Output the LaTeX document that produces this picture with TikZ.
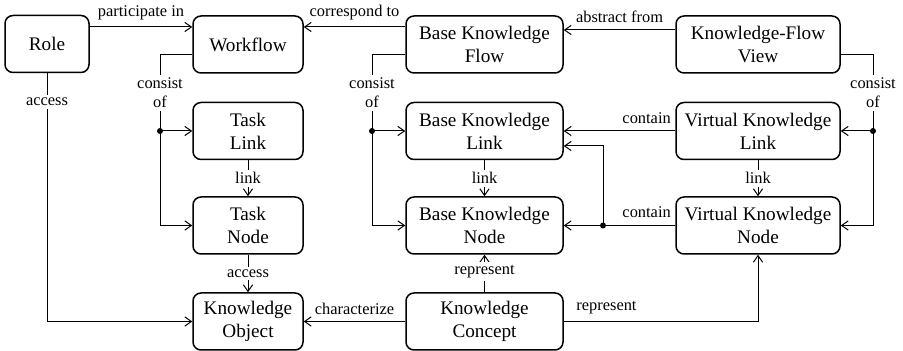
\documentclass[tikz,border=0pt]{standalone}
\usepackage{fontspec}
\setmainfont{Liberation Serif}
\usetikzlibrary{arrows.meta}
\begin{document}
\begin{tikzpicture}[x=0.5pt,y=-0.5pt,
  box/.style={draw, line width=0.75pt, rounded corners=4pt, align=center,
    minimum height=28.5pt, inner sep=0pt, font=\rmfamily\fontsize{9.6}{11.5}\selectfont},
  sbox/.style={box, minimum width=55pt},
  wbox/.style={box, minimum width=78.5pt},
  vbox/.style={box, minimum width=82pt},
  lab/.style={font=\rmfamily\fontsize{8.2}{9.5}\selectfont, align=center},
  gap/.style={lab, fill=white, inner xsep=1pt, inner ysep=1.5pt},
  conn/.style={line width=0.5pt},
  arr/.style={conn, -{Straight Barb[length=3.3pt,width=4.6pt]}},
  dot/.style={circle, fill, inner sep=0pt, minimum size=3pt}
]
\useasboundingbox (0,0) rectangle (903,351);

% nodes
\node[box, minimum width=42pt] (role) at (47,44) {Role};
\node[sbox] (wf)  at (248,44.5) {Workflow};
\node[wbox] (bkf) at (484.5,44.5) {Base Knowledge\\Flow};
\node[vbox] (kfv) at (758,44.5) {Knowledge-Flow\\View};
\node[sbox] (tl)  at (248,131) {Task\\Link};
\node[wbox] (bkl) at (484.5,131) {Base Knowledge\\Link};
\node[vbox] (vkl) at (758,131) {Virtual Knowledge\\Link};
\node[sbox] (tn)  at (248,225.5) {Task\\Node};
\node[wbox] (bkn) at (484.5,225.5) {Base Knowledge\\Node};
\node[vbox] (vkn) at (758,225.5) {Virtual Knowledge\\Node};
\node[sbox] (ko)  at (248,321.5) {Knowledge\\Object};
\node[wbox] (kc)  at (484.5,321.5) {Knowledge\\Concept};

% junction points
\coordinate (wc) at (160,55);
\node[dot] (wj) at (160,131) {};
\coordinate (bc) at (372,55);
\node[dot] (bj) at (372,131) {};
\coordinate (kc1) at (873,55);
\node[dot] (kj) at (873,131) {};
\node[dot] (cj) at (603,225.5) {};

% top row
\draw[arr] (role.east |- 0,27) -- node[lab,above] {participate in} (wf.west |- 0,27);
\draw[arr] (bkf.west |- 0,27) -- node[lab,above] {correspond to} (wf.east |- 0,27);
\draw[arr] (kfv.west |- 0,30) -- node[lab,above] {abstract from} (bkf.east |- 0,30);

% consist of (workflow)
\draw[conn] (wf.west |- wc) -- (wc) -- node[gap] {consist\\of} (wj.center);
\draw[arr] (wj.center) -- (tl.west);
\draw[arr] (wj.center) |- (tn.west);

% consist of (base knowledge flow)
\draw[conn] (bkf.west |- bc) -- (bc) -- node[gap] {consist\\of} (bj.center);
\draw[arr] (bj.center) -- (bkl.west);
\draw[arr] (bj.center) |- (bkn.west);

% consist of (knowledge-flow view)
\draw[conn] (kfv.east |- kc1) -- (kc1) -- node[gap] {consist\\of} (kj.center);
\draw[arr] (kj.center) -- (vkl.east);
\draw[arr] (kj.center) |- (vkn.east);

% links
\draw[arr] (tl) -- node[gap] {link} (tn);
\draw[arr] (bkl) -- node[gap] {link} (bkn);
\draw[arr] (vkl) -- node[gap] {link} (vkn);

% contain
\draw[arr] (vkl.west) -- node[lab, pos=0, anchor=south east, inner xsep=2pt, inner ysep=3.5pt] {contain} (bkl.east);
\draw[conn] (vkn.west) -- node[lab, pos=0, anchor=south east, inner xsep=2pt, inner ysep=3.5pt] {contain} (cj.center);
\draw[arr] (cj.center) -- (bkn.east);
\draw[arr] (cj.center) |- (bkl.east |- 0,146);

% access
\draw[arr] (tn) -- node[gap] {access} (ko);
\draw[arr] (role.south) |- node[gap, pos=0.058] {access} (ko.west);

% knowledge concept
\draw[arr] (kc) -- node[lab,above] {characterize} (ko);
\draw[arr] (kc) -- node[gap, pos=0.55] {represent} (bkn);
\draw[arr] (kc.east) -| node[lab,above,pos=0.11] {represent} (vkn.south);
\end{tikzpicture}
\end{document}
